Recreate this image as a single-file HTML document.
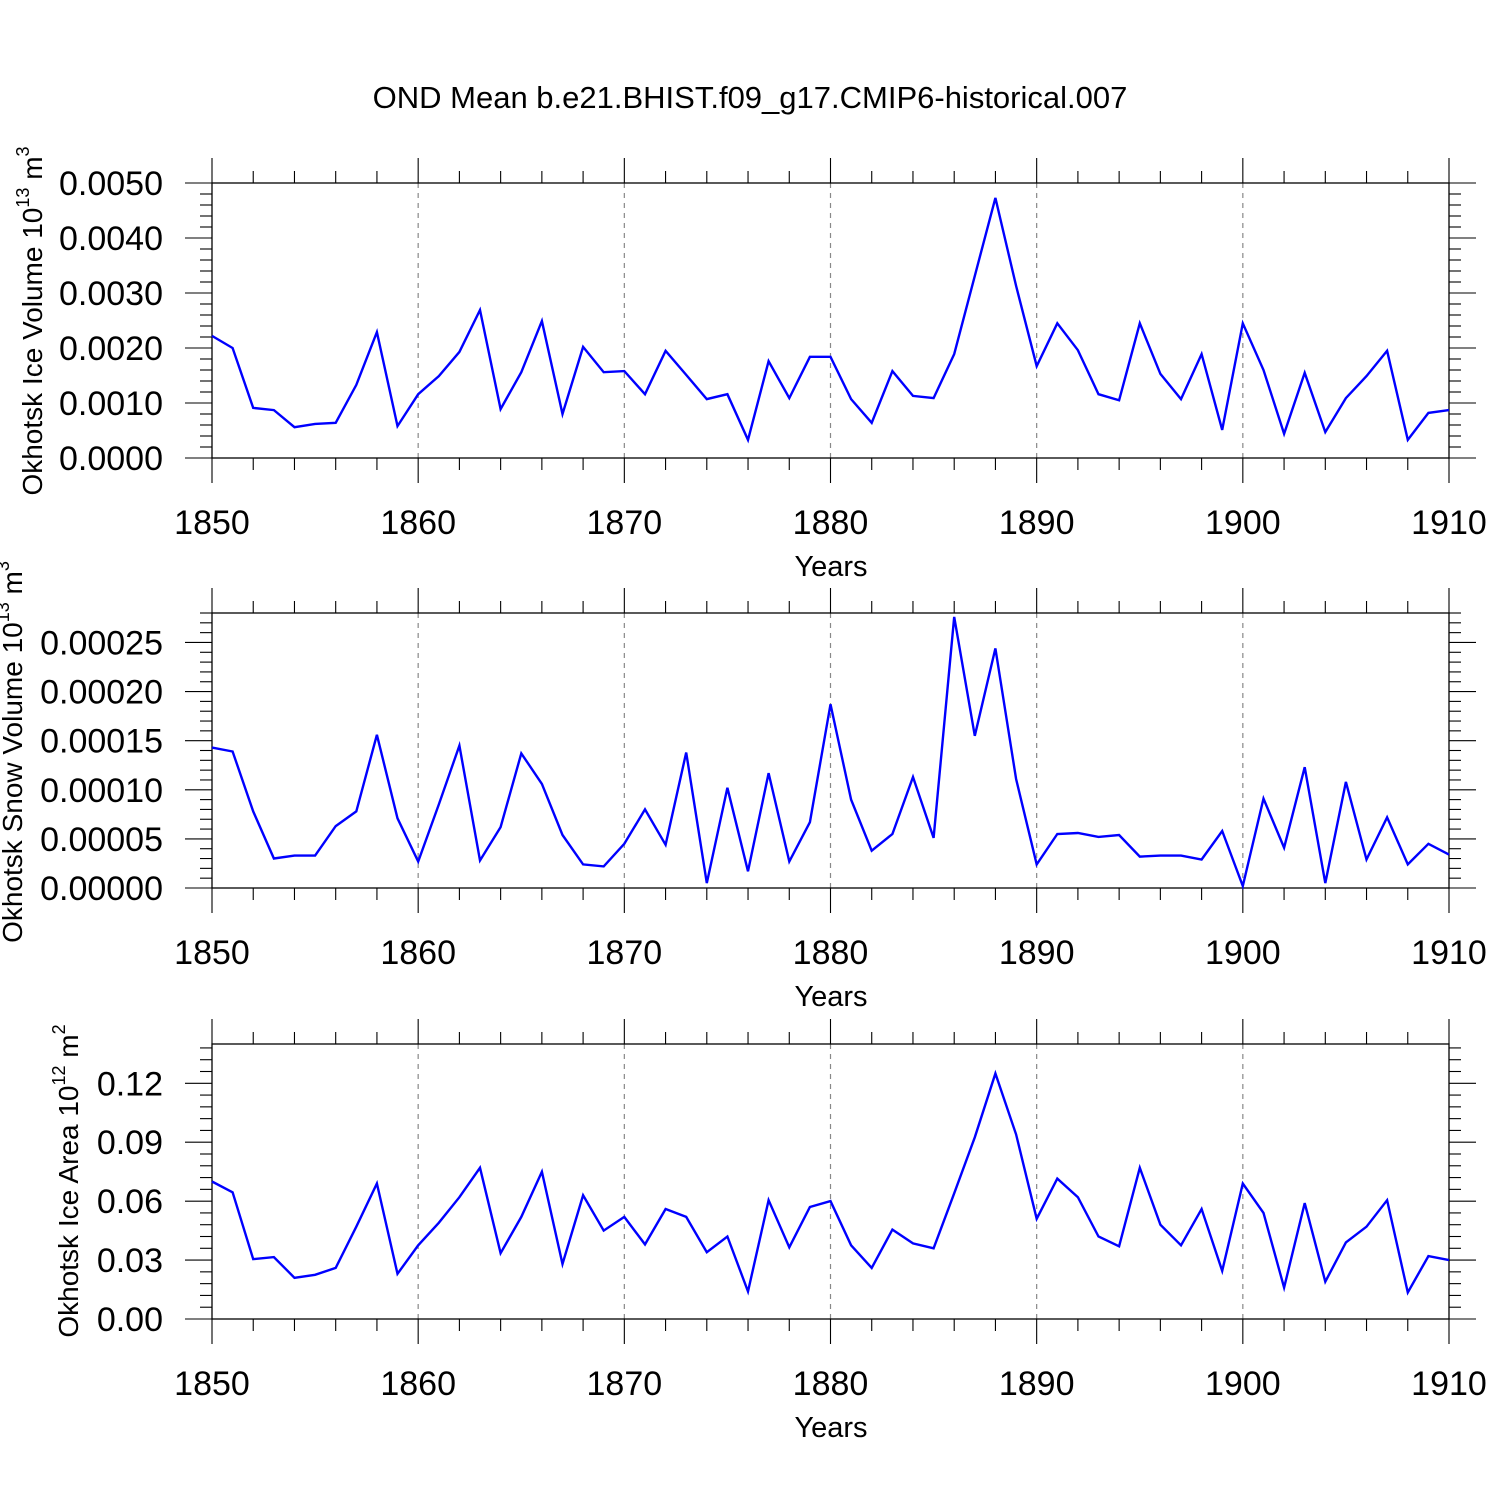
<!DOCTYPE html>
<html><head><meta charset="utf-8"><style>
html,body{margin:0;padding:0;background:#fff;}
svg{display:block;font-family:"Liberation Sans",sans-serif;}
</style></head><body>
<svg id="chart" width="1500" height="1500" viewBox="0 0 1500 1500">
<text x="750" y="108" font-size="31" text-anchor="middle">OND Mean b.e21.BHIST.f09_g17.CMIP6-historical.007</text>
</svg>
<script>
const years = [];
for (let y = 1850; y <= 1910; y++) years.push(y);
const iceVolume = [0.00222,0.0020,0.00091,0.00087,0.00056,0.00062,0.00064,0.00133,0.00229,0.00058,0.00116,0.00149,0.00193,0.00269,0.00089,0.00156,0.00249,0.0008,0.00202,0.00156,0.00158,0.00116,0.00195,0.00151,0.00107,0.00116,0.00033,0.00176,0.00109,0.00184,0.00184,0.00107,0.00064,0.00158,0.00113,0.00109,0.00189,0.00331,0.00473,0.00313,0.00167,0.00245,0.00196,0.00116,0.00105,0.00245,0.00153,0.00107,0.00189,0.00051,0.00245,0.0016,0.00044,0.00155,0.00047,0.00109,0.00149,0.00195,0.00033,0.00082,0.00087];
const snowVolume = [0.000143,0.000139,0.000078,0.00003,0.000033,0.000033,0.000063,0.000078,0.000156,0.000071,0.000027,0.000085,0.000145,0.000028,0.000062,0.000137,0.000106,0.000054,0.000024,0.000022,0.000045,0.00008,0.000044,0.000138,0.000005,0.000102,0.000017,0.000117,0.000027,0.000067,0.000187,0.00009,0.000038,0.000055,0.000113,0.000051,0.000276,0.000155,0.000244,0.000111,0.000024,0.000055,0.000056,0.000052,0.000054,0.000032,0.000033,0.000033,0.000029,0.000058,0.000002,0.000091,0.000041,0.000123,0.000005,0.000108,0.000029,0.000072,0.000024,0.000045,0.000034];
const iceArea = [0.070,0.0645,0.0305,0.0315,0.021,0.0225,0.026,0.047,0.069,0.023,0.0375,0.049,0.062,0.077,0.0335,0.052,0.075,0.028,0.063,0.045,0.052,0.038,0.056,0.052,0.034,0.042,0.014,0.0605,0.0365,0.057,0.060,0.0375,0.026,0.0455,0.0385,0.036,0.064,0.0925,0.125,0.094,0.051,0.0715,0.062,0.042,0.037,0.077,0.048,0.0375,0.056,0.0245,0.069,0.054,0.016,0.059,0.019,0.039,0.047,0.0605,0.0135,0.032,0.030];
const xTickLabels = ["1850","1860","1870","1880","1890","1900","1910"];
const yTicks1 = ["0.0000","0.0010","0.0020","0.0030","0.0040","0.0050"];
const yTicks2 = ["0.00000","0.00005","0.00010","0.00015","0.00020","0.00025"];
const yTicks3 = ["0.00","0.03","0.06","0.09","0.12"];

const NS = "http://www.w3.org/2000/svg";
const svg = document.getElementById("chart");
function el(tag, attrs, parent) {
  const e = document.createElementNS(NS, tag);
  for (const k in attrs) e.setAttribute(k, attrs[k]);
  (parent || svg).appendChild(e);
  return e;
}
const X0 = 212, X1 = 1449;
function xs(yr) { return X0 + (yr - 1850) / 60 * (X1 - X0); }

function panel(cfg) {
  const g = el("g", {});
  
  
  const top = cfg.top, bot = cfg.top + 275;
  const ys = v => bot - v / cfg.max * 275;
  for (let yr = 1860; yr <= 1900; yr += 10) {
    const l = el("line", {x1: xs(yr), x2: xs(yr), y1: top, y2: bot, stroke: "#888", "stroke-width": 1.2, "stroke-dasharray": "5,5"}, g);
    
    
  }
  const fr = el("rect", {x: X0, y: top, width: X1 - X0, height: 275, fill: "none", stroke: "#000", "stroke-width": 1.3}, g);
  
  
  for (let yr = 1850; yr <= 1910; yr += 2) {
    const major = (yr % 10 === 0);
    const len = major ? 25 : 12;
    el("line", {x1: xs(yr), x2: xs(yr), y1: top, y2: top - len, stroke: "#000", "stroke-width": 1.1}, g);
    el("line", {x1: xs(yr), x2: xs(yr), y1: bot, y2: bot + len, stroke: "#000", "stroke-width": 1.1}, g);
  }
  xTickLabels.forEach((t, i) => {
    const tx = el("text", {x: xs(1850 + i * 10), y: bot + 76, "font-size": 34, "text-anchor": "middle"}, g);
    tx.textContent = t;
    
    
  });
  const nMinor = Math.round(cfg.max / cfg.minor);
  for (let i = 0; i <= nMinor; i++) {
    const v = i * cfg.minor;
    const major = Math.abs(v / cfg.major - Math.round(v / cfg.major)) < 1e-6;
    const len = major ? 27 : 12;
    el("line", {x1: X0, x2: X0 - len, y1: ys(v), y2: ys(v), stroke: "#000", "stroke-width": 1.1}, g);
    el("line", {x1: X1, x2: X1 + len, y1: ys(v), y2: ys(v), stroke: "#000", "stroke-width": 1.1}, g);
  }
  cfg.labels.forEach((t, i) => {
    const tx = el("text", {x: 163, y: ys(i * cfg.major) + 12, "font-size": 34, "text-anchor": "end"}, g);
    tx.textContent = t;
    
    
  });
  const pts = cfg.data.map((v, i) => xs(years[i]).toFixed(1) + "," + ys(v).toFixed(1)).join(" ");
  const pl = el("polyline", {points: pts, fill: "none", stroke: "#0000ff", "stroke-width": 2.4, "stroke-linejoin": "miter"}, g);
  
  
  const xt = el("text", {x: 831, y: bot + 118, "font-size": 29, "text-anchor": "middle"}, g);
  xt.textContent = "Years";
  
  
  const yt = el("text", {x: 0, y: 0, "font-size": 28, "text-anchor": "middle", transform: "translate(" + cfg.ytx + "," + cfg.ytc + ") rotate(-90)"}, g);
  
  
  const a = el("tspan", {}, yt); a.textContent = cfg.ytitle + " 10";
  const b = el("tspan", {"font-size": 18, dy: -13}, yt); b.textContent = cfg.exp;
  const c = el("tspan", {dy: 13}, yt); c.textContent = " m";
  const d = el("tspan", {"font-size": 18, dy: -13}, yt); d.textContent = cfg.unitExp;
}
panel({name: "ice-volume-panel", top: 183, max: 0.005, major: 0.001, minor: 0.0002, labels: yTicks1, data: iceVolume, ytitle: "Okhotsk Ice Volume", exp: "13", unitExp: "3", ytx: 42, ytc: 321});
panel({name: "snow-volume-panel", top: 613, max: 0.00028, major: 0.00005, minor: 0.00001, labels: yTicks2, data: snowVolume, ytitle: "Okhotsk Snow Volume", exp: "13", unitExp: "3", ytx: 22, ytc: 752});
panel({name: "ice-area-panel", top: 1044, max: 0.14, major: 0.03, minor: 0.006, labels: yTicks3, data: iceArea, ytitle: "Okhotsk Ice Area", exp: "12", unitExp: "2", ytx: 78, ytc: 1181});
</script>
</body></html>
